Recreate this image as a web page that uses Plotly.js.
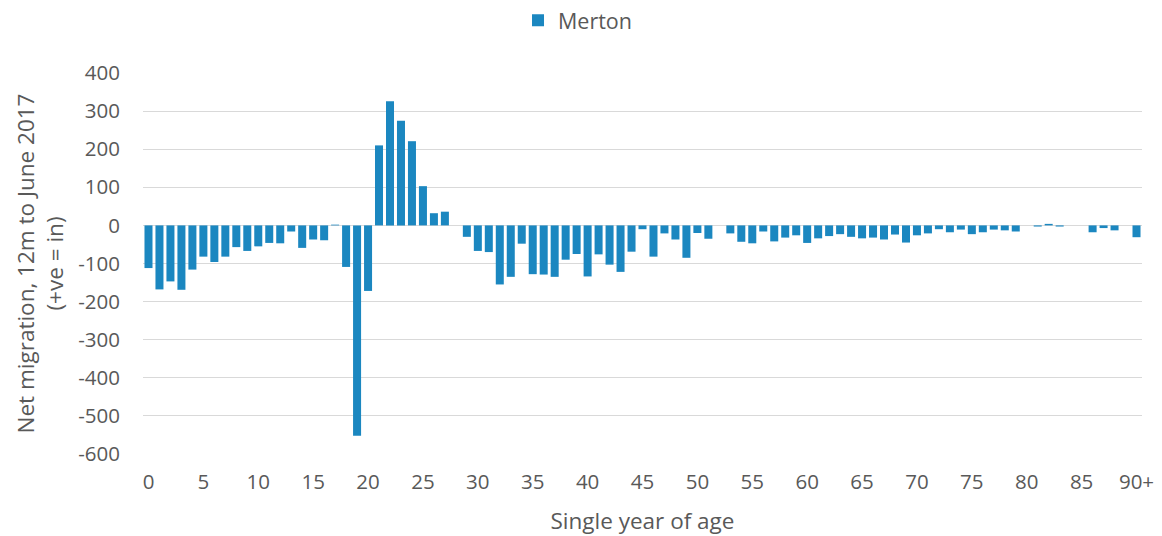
<!DOCTYPE html>
<html>
<head>
<meta charset="utf-8">
<script src="https://cdn.plot.ly/plotly-3.0.1.min.js"></script>
<style>html,body{margin:0;padding:0;background:#fff}#chart{width:1162px;height:536px}</style>
</head>
<body>
<div id="chart"></div>
<script>
var seriesName = "Merton";
var ages = [];
for (var i = 0; i <= 90; i++) ages.push(i);
var ageLabels = ages.map(function(a){ return a === 90 ? "90+" : String(a); });
var netMigration = [
  -112, -168, -147, -169, -116, -82, -96, -82, -57, -67,
  -55, -46, -47, -16, -59, -37, -39, 2, -109, -552,
  -172, 210, 326, 275, 221, 103, 32, 36, 0, -30,
  -67, -70, -155, -135, -48, -128, -129, -135, -90, -75,
  -134, -76, -103, -122, -69, -10, -82, -21, -37, -85,
  -20, -35, 0, -21, -43, -47, -16, -42, -32, -26,
  -46, -34, -28, -23, -30, -34, -32, -37, -24, -45,
  -26, -21, -10, -18, -11, -23, -18, -11, -13, -16,
  0, -3, 4, -3, 0, 0, -18, -7, -13, 0,
  -31
];
var tickAges = [0,5,10,15,20,25,30,35,40,45,50,55,60,65,70,75,80,85,90];
var tickLabels = tickAges.map(function(a){ return ageLabels[a]; });
var yTicks = [400,300,200,100,0,-100,-200,-300,-400,-500,-600];
var yTickLabels = yTicks.map(function(v){ return String(v); });

var font = "'Open Sans', sans-serif";
var txt = "#595959";
var trace = {
  type: "bar",
  x: ages,
  y: netMigration,
  name: seriesName,
  marker: {color: "#1B87C0", line: {width: 0}},
  showlegend: true,
  hovertemplate: "%{x}: %{y}<extra></extra>"
};
var layout = {
  width: 1162, height: 536,
  margin: {l: 143, r: 20, t: 73, b: 82},
  paper_bgcolor: "#fff", plot_bgcolor: "#fff",
  font: {family: font, color: txt, size: 20},
  bargap: 0.27,
  showlegend: true,
  legend: {orientation: "h", x: 0.497, xanchor: "center", xref: "container",
           y: 0.962, yanchor: "middle", yref: "container",
           font: {size: 21.5, color: txt}, itemwidth: 30},
  xaxis: {
    range: [-0.5, 90.5],
    tickmode: "array", tickvals: tickAges, ticktext: tickLabels,
    showgrid: false, zeroline: false, showline: false, ticks: "",
    ticklabelstandoff: 13,
    tickfont: {size: 20.5, color: txt},
    title: {text: "Single year of age", font: {size: 22.5, color: txt}, standoff: 19}
  },
  yaxis: {
    range: [-600, 400],
    tickmode: "array", tickvals: yTicks, ticktext: yTickLabels,
    showgrid: true, gridcolor: "#D9D9D9", gridwidth: 1,
    zeroline: true, zerolinecolor: "#D9D9D9", zerolinewidth: 1,
    showline: false, ticks: "",
    ticklabelstandoff: 22,
    tickfont: {size: 20.5, color: txt},
    title: {text: "Net migration, 12m to June 2017<br>(+ve = in)", font: {size: 22.5, color: txt}, standoff: 8}
  }
};
Plotly.newPlot("chart", [trace], layout, {displayModeBar: false, staticPlot: true});
</script>
</body>
</html>
